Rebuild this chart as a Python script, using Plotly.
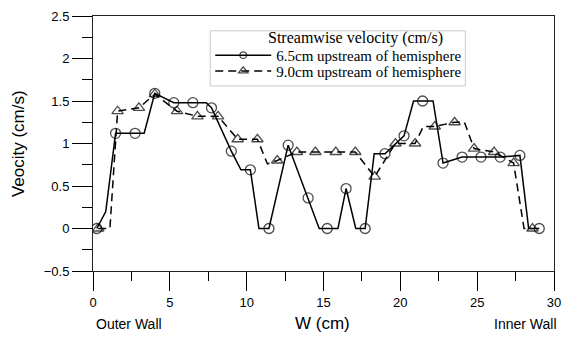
import plotly.graph_objects as go

# ---- data ----
w_65 = [0.25, 0.83, 1.47, 2.74, 3.33, 4.02, 5.26, 6.5, 7.37, 7.71, 9.0, 9.63, 10.24, 10.8,
        11.45, 12.7, 14.0, 14.72, 15.24, 15.94, 16.47, 17.1, 17.71, 18.3, 19.0, 20.24,
        20.86, 21.45, 22.13, 22.78, 24.02, 25.25, 26.5, 27.78, 28.35, 29.04]
v_65 = [0.0, 0.2, 1.12, 1.12, 1.12, 1.59, 1.48, 1.48, 1.48, 1.42, 0.91, 0.69, 0.69, 0.0,
        0.0, 0.98, 0.36, 0.0, 0.0, 0.0, 0.47, 0.0, 0.0, 0.88, 0.88, 1.09,
        1.5, 1.5, 1.5, 0.77, 0.84, 0.84, 0.84, 0.86, 0.0, 0.0]
measured_65 = [1, 0, 1, 1, 0, 1, 1, 1, 0, 1, 1, 0, 1, 0,
               1, 1, 1, 0, 1, 0, 1, 0, 1, 0, 1, 1,
               0, 1, 0, 1, 1, 1, 1, 1, 0, 1]

w_90 = [0.34, 1.1, 1.6, 2.99, 4.02, 5.47, 6.8, 8.14, 9.42, 10.7, 11.35, 11.99, 13.27,
        14.47, 15.8, 17.07, 18.33, 19.68, 20.96, 21.5, 22.24, 23.53, 24.17, 24.8,
        26.1, 27.37, 28.05, 28.6]
v_90 = [0.0, 0.0, 1.38, 1.42, 1.58, 1.38, 1.32, 1.32, 1.05, 1.05, 0.76, 0.8, 0.9,
        0.9, 0.9, 0.9, 0.61, 1.0, 1.0, 1.2, 1.2, 1.25, 1.25, 0.94,
        0.9, 0.77, 0.0, 0.0]
measured_90 = [1, 0, 1, 1, 1, 1, 1, 1, 1, 1, 0, 1, 1,
               1, 1, 1, 1, 1, 1, 0, 1, 1, 0, 1,
               1, 1, 0, 1]

series_names = ["6.5cm upstream of hemisphere", "9.0cm upstream of hemisphere"]
legend_title = "Streamwise velocity (cm/s)"
x_tick_vals = [0, 5, 10, 15, 20, 25, 30]
y_tick_vals = [-0.5, 0, 0.5, 1, 1.5, 2, 2.5]
x_title = "W (cm)"
y_title = "Veocity (cm/s)"
left_label = "Outer Wall"
right_label = "Inner Wall"

SANS = "Arial, Liberation Sans, sans-serif"
SERIF = "Times New Roman, Liberation Serif, serif"

W, H = 570, 338
L, R, T, B = 93, 9, 12, 67
pw, ph = W - L - R, H - T - B

def px_x(p):
    return (p - L) / pw

def px_y(p):
    return (H - B - p) / ph

fig = go.Figure()
fig.update_layout(
    width=W, height=H, template="simple_white",
    margin=dict(l=L, r=R, t=T, b=B),
    xaxis=dict(range=[0, 30], tickvals=x_tick_vals, ticks="outside", ticklen=19,
               tickcolor="black", tickwidth=1, showline=True, mirror=True,
               minor=dict(dtick=2.5, ticks="outside", ticklen=9, tickcolor="black"),
               tickfont=dict(family=SANS, size=13, color="black")),
    yaxis=dict(range=[-0.5, 2.5], tickvals=y_tick_vals, ticks="outside", ticklen=20,
               tickcolor="black", tickwidth=1, showline=True, mirror=True,
               minor=dict(dtick=0.25, ticks="outside", ticklen=10, tickcolor="black"),
               tickfont=dict(family=SANS, size=13, color="black")),
)

fig.add_trace(go.Scatter(
    x=w_65, y=v_65, mode="lines+markers", name=series_names[0], legend="legend",
    line=dict(color="black", width=1.5),
    marker=dict(symbol="circle-open", color="black",
                size=[10 if m else 0 for m in measured_65],
                line=dict(width=1.3, color="black")),
))
fig.add_trace(go.Scatter(
    x=w_90, y=v_90, mode="lines+markers", name=series_names[1], legend="legend2",
    line=dict(color="black", width=1.5, dash="8px,5px"),
    marker=dict(symbol="triangle-up-open", color="black",
                size=[10 if m else 0 for m in measured_90],
                line=dict(width=1.3, color="black")),
))

legend_common = dict(
    xanchor="left", yanchor="middle",
    borderwidth=0, bgcolor="rgba(0,0,0,0)",
    font=dict(family=SERIF, size=15, color="black"),
    itemwidth=56,
)

fig.update_layout(
    showlegend=True,
    legend=dict(x=px_x(212), y=px_y(52), **legend_common),
    legend2=dict(x=px_x(212), y=px_y(68), **legend_common),
    shapes=[
        dict(type="rect", xref="paper", yref="paper",
             x0=px_x(212), x1=px_x(471), y0=px_y(83), y1=px_y(27),
             line=dict(color="#555555", width=1), fillcolor="white", layer="below"),
    ],
    annotations=[
        dict(text=legend_title, xref="paper", yref="paper", x=px_x(359), y=px_y(34),
             xanchor="center", yanchor="middle", showarrow=False,
             font=dict(family=SERIF, size=16, color="black")),
        dict(text=x_title, xref="paper", yref="paper", x=px_x(326), y=px_y(324),
             xanchor="center", yanchor="middle", showarrow=False,
             font=dict(family=SANS, size=17, color="black")),
        dict(text=left_label, xref="paper", yref="paper", x=px_x(94), y=px_y(325),
             xanchor="left", yanchor="middle", showarrow=False,
             font=dict(family=SANS, size=14, color="black")),
        dict(text=right_label, xref="paper", yref="paper", x=px_x(566), y=px_y(325),
             xanchor="right", yanchor="middle", showarrow=False,
             font=dict(family=SANS, size=14, color="black")),
        dict(text=y_title, xref="paper", yref="paper", x=px_x(18), y=px_y(142),
             xanchor="center", yanchor="middle", showarrow=False, textangle=-90,
             font=dict(family=SANS, size=17, color="black")),
    ],
)

fig.write_html("out.html")
